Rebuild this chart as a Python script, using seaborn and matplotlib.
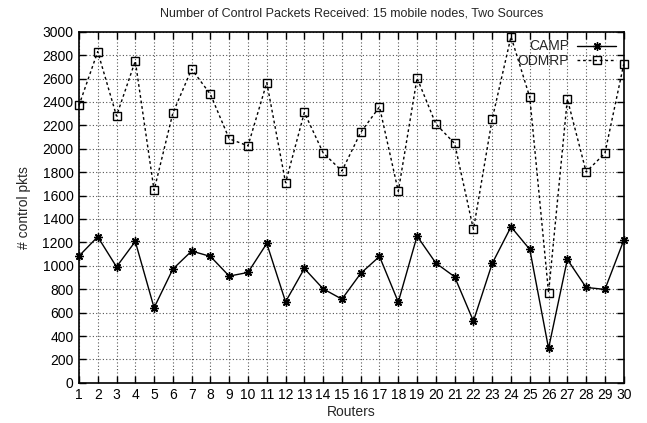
import pandas as pd
import seaborn as sns
import matplotlib.pyplot as plt

# routers on the x axis
routers = list(range(1, 31))

camp = [1083, 1248, 991, 1208, 641, 972, 1126, 1080, 912, 943,
        1191, 692, 977, 803, 715, 935, 1080, 690, 1254, 1023,
        906, 527, 1020, 1333, 1140, 294, 1054, 815, 798, 1217]

odmrp = [2370, 2830, 2280, 2750, 1645, 2305, 2680, 2465, 2085, 2025,
         2565, 1710, 2310, 1965, 1810, 2140, 2358, 1636, 2604, 2212,
         2045, 1311, 2255, 2958, 2440, 769, 2425, 1802, 1962, 2722]

y_ticks = list(range(0, 3001, 200))

df = pd.DataFrame({"Routers": routers, "CAMP": camp, "ODMRP": odmrp})

sns.set_theme(style="ticks")
plt.rcParams["font.family"] = ["Liberation Sans", "DejaVu Sans"]

fig = plt.figure(figsize=(6.47, 4.23), dpi=100)
ax = fig.add_axes([0.122, 0.095, 0.842, 0.83])

sns.lineplot(data=df, x="Routers", y="CAMP", ax=ax, color="black", lw=1,
             marker=(8, 2, 0), markersize=6, markeredgewidth=1,
             markeredgecolor="black", label="CAMP", clip_on=False)
sns.lineplot(data=df, x="Routers", y="ODMRP", ax=ax, color="black", lw=1,
             linestyle=(0, (2, 2)), marker="s", markersize=5.5,
             markerfacecolor="none", markeredgecolor="black",
             markeredgewidth=1, label="ODMRP", clip_on=False)

ax.set_xlim(1, 30)
ax.set_ylim(0, 3000)
ax.set_xticks(routers)
ax.set_yticks(y_ticks)
ax.tick_params(direction="in", top=True, right=True, length=5, width=1,
               labelsize=10, pad=4, colors="black")
ax.grid(True, color="#555555", linestyle=(0, (1, 2)), linewidth=0.8)
for s in ax.spines.values():
    s.set_color("black")
    s.set_linewidth(1.2)

ax.set_title("Number of Control Packets Received: 15 mobile nodes, Two Sources",
             fontsize=9, pad=11)
ax.set_xlabel("Routers", fontsize=10, labelpad=2)
ax.set_ylabel("# control pkts", fontsize=10, labelpad=8)

leg = ax.legend(loc="upper right", frameon=False, markerfirst=False,
                fontsize=10, handlelength=2.8, borderaxespad=0.15,
                labelspacing=0.05, handletextpad=0.6)

fig.savefig("out.png", dpi=100)
